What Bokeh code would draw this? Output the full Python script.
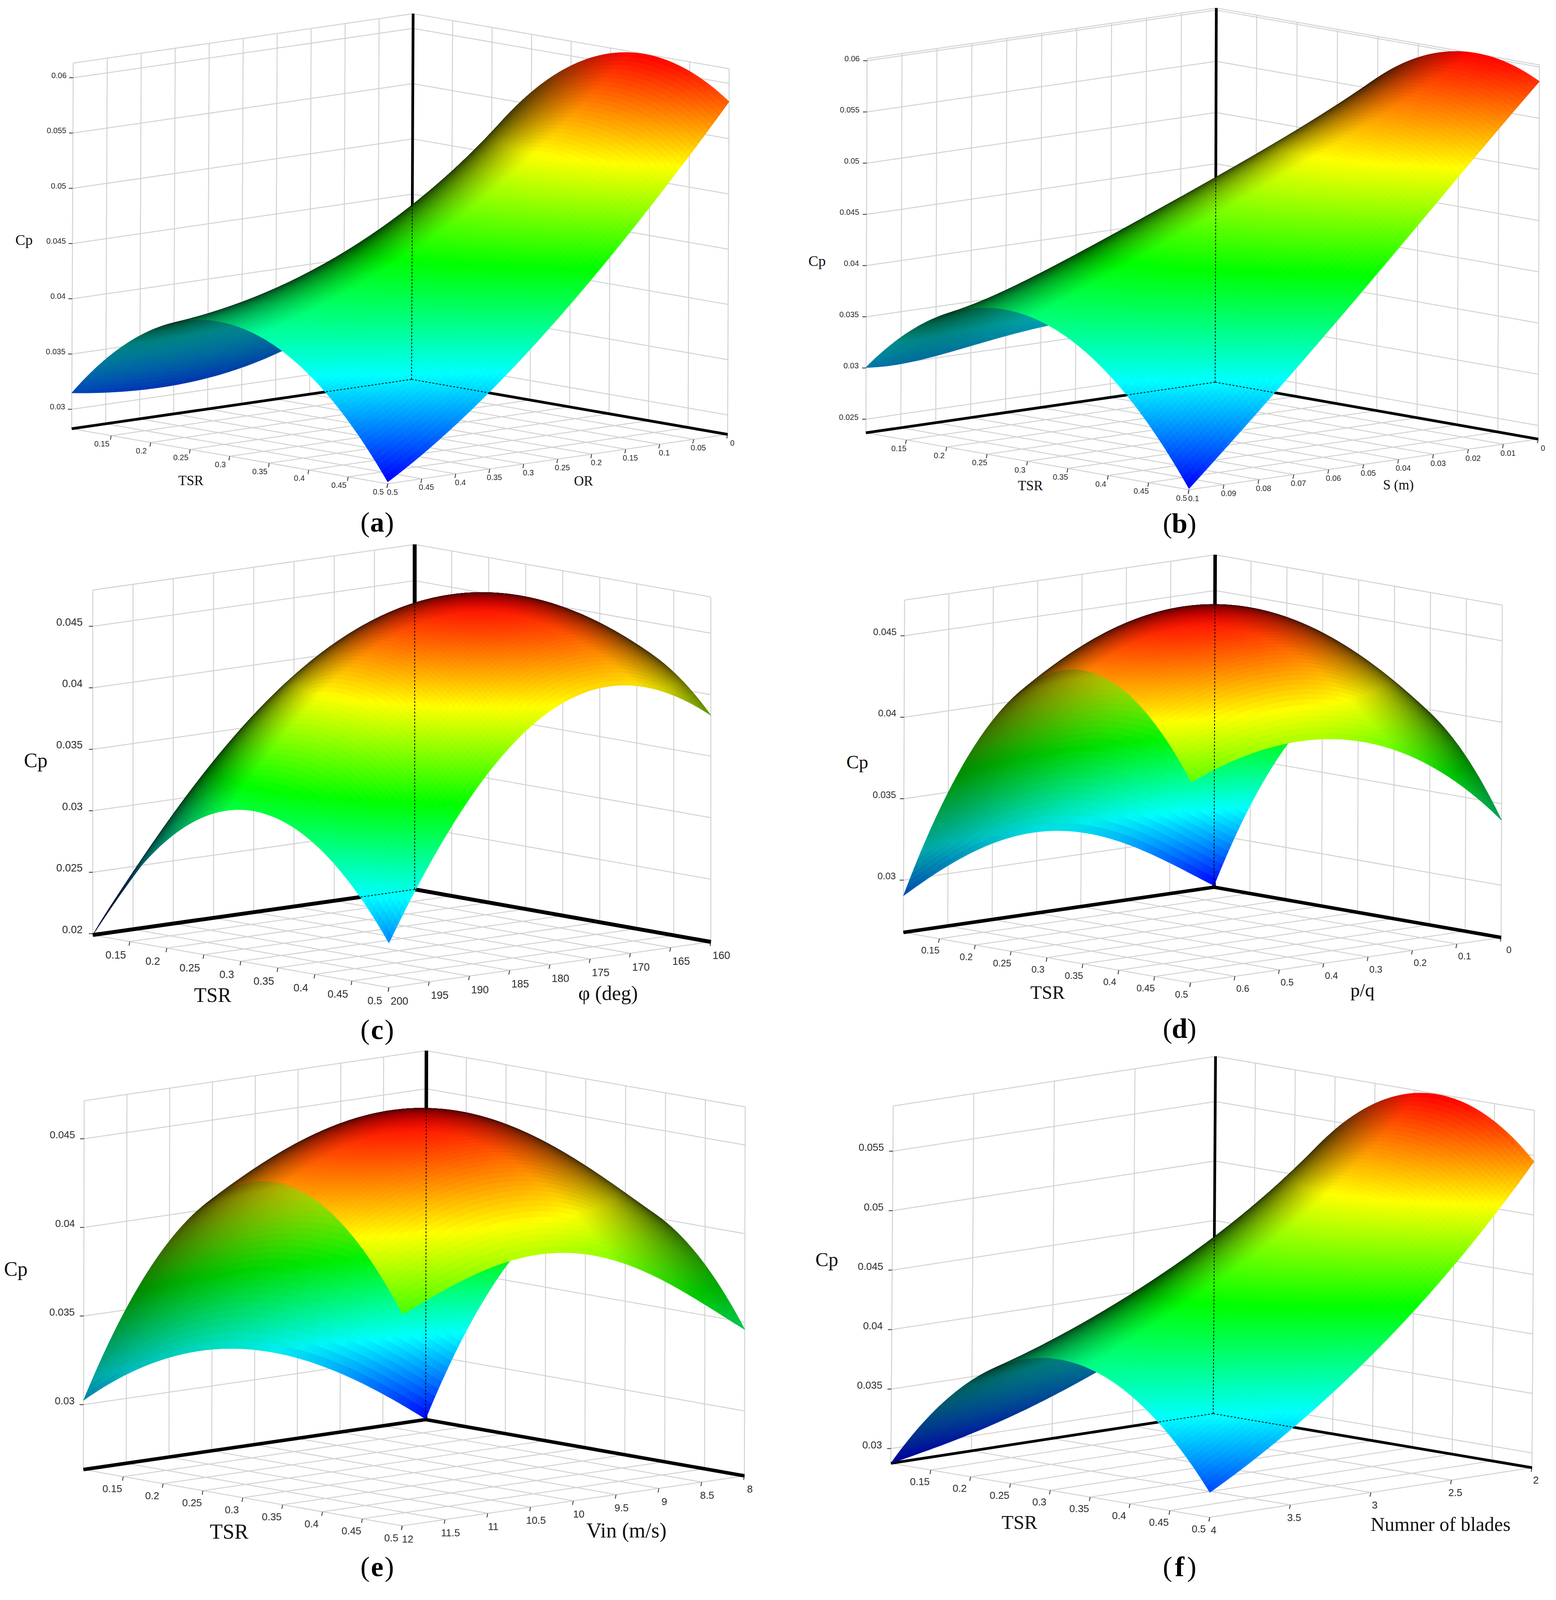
import numpy as np

from bokeh.core.properties import value
from bokeh.embed import file_html
from bokeh.layouts import column, row
from bokeh.models import Range1d
from bokeh.plotting import figure
from bokeh.resources import INLINE

# Cp: rows are TSR 0.1 .. 0.5, columns run along the
# second factor from its back value (first tick) to its front value (last tick)
tsr_labels = ["0.15", "0.2", "0.25", "0.3", "0.35", "0.4", "0.45", "0.5"]

cp_a = [[0.03936, 0.03420, 0.03155, 0.03082, 0.03148],
        [0.05180, 0.04565, 0.04161, 0.03929, 0.03840],
        [0.05911, 0.05197, 0.04654, 0.04265, 0.04020],
        [0.06130, 0.05316, 0.04634, 0.04088, 0.03688],
        [0.05835, 0.04922, 0.04101, 0.03396, 0.02841]]
cp_b = [[0.03189, 0.03171, 0.03152, 0.03043, 0.03006],
        [0.04679, 0.04444, 0.04204, 0.03909, 0.03671],
        [0.05620, 0.05169, 0.04712, 0.04223, 0.03788],
        [0.06013, 0.05346, 0.04672, 0.03989, 0.03357],
        [0.05859, 0.04975, 0.04080, 0.03211, 0.02378]]
cp_c = [[0.02515, 0.03056, 0.03168, 0.02775, 0.01990],
        [0.03631, 0.04122, 0.04178, 0.03728, 0.02868],
        [0.04226, 0.04665, 0.04662, 0.04155, 0.03223],
        [0.04293, 0.04680, 0.04618, 0.04056, 0.03050],
        [0.03833, 0.04169, 0.04052, 0.03432, 0.02352]]
cp_d = [[0.02689, 0.02991, 0.03165, 0.03128, 0.02905],
        [0.03624, 0.03997, 0.04200, 0.04156, 0.03913],
        [0.04054, 0.04478, 0.04689, 0.04661, 0.04418],
        [0.03979, 0.04413, 0.04632, 0.04619, 0.04417],
        [0.03399, 0.03823, 0.04032, 0.04052, 0.03911]]
cp_e = [[0.02638, 0.02967, 0.03169, 0.03196, 0.03025],
        [0.03576, 0.03954, 0.04180, 0.04175, 0.03959],
        [0.04027, 0.04432, 0.04671, 0.04645, 0.04404],
        [0.03988, 0.04380, 0.04611, 0.04585, 0.04360],
        [0.03460, 0.03818, 0.04032, 0.04015, 0.03828]]
cp_f = [[0.03780, 0.03507, 0.03233, 0.03023, 0.02876],
        [0.05020, 0.04552, 0.04187, 0.03900, 0.03684],
        [0.05710, 0.05096, 0.04639, 0.04273, 0.03987],
        [0.05862, 0.05135, 0.04588, 0.04142, 0.03789],
        [0.05450, 0.04672, 0.04033, 0.03510, 0.03086]]

or_labels = ["0", "0.05", "0.1", "0.15", "0.2", "0.25", "0.3", "0.35", "0.4", "0.45", "0.5"]
s_labels = ["0", "0.01", "0.02", "0.03", "0.04", "0.05", "0.06", "0.07", "0.08", "0.09", "0.1"]
phi_labels = ["160", "165", "170", "175", "180", "185", "190", "195", "200"]
pq_labels = ["0", "0.1", "0.2", "0.3", "0.4", "0.5", "0.6", ""]
vin_labels = ["8", "8.5", "9", "9.5", "10", "10.5", "11", "11.5", "12"]
blade_labels = ["2", "2.5", "3", "3.5", "4"]

z_a = ["0.03", "0.035", "0.04", "0.045", "0.05", "0.055", "0.06"]
z_b = ["0.025", "0.03", "0.035", "0.04", "0.045", "0.05", "0.055", "0.06"]
z_c = ["0.02", "0.025", "0.03", "0.035", "0.04", "0.045"]
z_d = ["0.03", "0.035", "0.04", "0.045"]
z_e = ["0.03", "0.035", "0.04", "0.045"]
z_f = ["0.03", "0.035", "0.04", "0.045", "0.05", "0.055"]

# where each box sits on the page, and how it is lettered
panels = [
    dict(tag="a", cp=cp_a, other=or_labels, other_values=[float(v) for v in or_labels], z=z_a, zlim=(0.02824, 0.06133),
         B=(1061, 1214), L=(191, 1371), R=(1870, 1389), T=(1065, 51), frame=(8, 2000, 8, 1730),
         tick_font=20, axis_w=7, tsr_off=(-24, 26), other_off=(12, 27), z_off=(-17, -8),
         name="OR", cp_at=(69, 770), cp_font=38, tsr_at=(496, 1536), name_at=(1501, 1538), name_font=35, cap_at=(973, 1669)),
    dict(tag="b", cp=cp_b, other=s_labels, other_values=[float(v) for v in s_labels], z=z_b, zlim=(0.02367, 0.0602),
         B=(3118, 1223), L=(2224, 1384), R=(3945, 1404), T=(3121, 33), frame=(2000, 3975, 8, 1730),
         tick_font=20, axis_w=7, tsr_off=(-19, 27), other_off=(12, 28), z_off=(-19, -7),
         name="S (m)", cp_at=(2099, 837), cp_font=38, tsr_at=(2645, 1552), name_at=(3587, 1550), name_font=35, cap_at=(3027, 1672)),
    dict(tag="c", cp=cp_c, other=phi_labels, other_values=[float(v) for v in phi_labels], z=z_c, zlim=(0.0199, 0.04795),
         B=(1069, 2836), L=(245, 2981), R=(1827, 3003), T=(1069, 1739), frame=(8, 2000, 1730, 3340),
         tick_font=27, axis_w=10, tsr_off=(-36, 42), other_off=(27, 43), z_off=(-26, -14),
         name="\u03c6 (deg)", cp_at=(99, 2426), cp_font=52, tsr_at=(552, 3172), name_at=(1564, 3166), name_font=52, cap_at=(973, 3282)),
    dict(tag="d", cp=cp_d, other=pq_labels, other_values=[0, 0.1, 0.2, 0.3, 0.4, 0.5, 0.6, 0.7], z=z_d, zlim=(0.02679, 0.04719),
         B=(3115, 2829), L=(2320, 2973), R=(3850, 2989), T=(3118, 1772), frame=(2000, 3975, 1730, 3340),
         tick_font=24, axis_w=9, tsr_off=(-23, 37), other_off=(20, 39), z_off=(-20, -13),
         name="p/q", cp_at=(2202, 2431), cp_font=48, tsr_at=(2689, 3164), name_at=(3495, 3156), name_font=48, cap_at=(3027, 3278)),
    dict(tag="e", cp=cp_e, other=vin_labels, other_values=[float(v) for v in vin_labels], z=z_e, zlim=(0.02634, 0.04715),
         B=(1097, 4523), L=(221, 4682), R=(1913, 4702), T=(1099, 3349), frame=(8, 2000, 3340, 5048),
         tick_font=26, axis_w=9, tsr_off=(-28, 39), other_off=(14, 42), z_off=(-23, -13),
         name="Vin (m/s)", cp_at=(48, 4044), cp_font=52, tsr_at=(594, 4880), name_at=(1611, 4876), name_font=54, cap_at=(973, 4992)),
    dict(tag="f", cp=cp_f, other=blade_labels, other_values=[float(v) for v in blade_labels], z=z_f, zlim=(0.02876, 0.0588),
         B=(3113, 4504), L=(2288, 4662), R=(3929, 4676), T=(3119, 3367), frame=(2000, 3975, 3340, 5048),
         tick_font=26, axis_w=7, tsr_off=(-28, 37), other_off=(10, 40), z_off=(-23, -12),
         name="Numner of blades", cp_at=(2124, 4013), cp_font=50, tsr_at=(2617, 4850), name_at=(3695, 4856), name_font=50, cap_at=(3027, 4991)),
]

N_MESH = 100
HEIGHT_FACTOR = 0.805  # the photographed page stops near 4100 px, so the rows are squeezed to fit
GRID = "#d2d2d2"
INK = "#2e2e2e"
SERIF = value("Liberation Serif")
SANS = value("Liberation Sans")


def lagrange(t):
    # basis of the polynomial through the five read values
    nodes = np.linspace(0, 1, 5)
    out = []
    for k in range(5):
        w = np.ones_like(t)
        for m in range(5):
            if m != k:
                w = w * (t - nodes[m]) / (nodes[k] - nodes[m])
        out.append(w)
    return np.array(out)


def jet(t):
    stops = [0, 0.25, 0.5, 0.75, 1]
    return (np.interp(t, stops, [0, 0, 0, 1, 1]),
            np.interp(t, stops, [0, 1, 1, 1, 0]),
            np.interp(t, stops, [1, 1, 0, 0, 0]))


def draw_panel(cfg):
    x0, x1, y0, y1 = cfg["frame"]
    p = figure(width=x1 - x0, height=int((y1 - y0) * HEIGHT_FACTOR), x_range=Range1d(x0, x1), y_range=Range1d(y1, y0),
               output_backend="svg", toolbar_location=None, min_border=0)
    p.axis.visible = False
    p.grid.visible = False
    p.outline_line_color = None

    B, L, R, T = [np.array(cfg[k], dtype=float) for k in "BLRT"]
    va, vb, vc = R - B, L - B, T - B
    zmin, zmax = cfg["zlim"]

    def project(s, o, h):
        s, o, h = np.asarray(s, float), np.asarray(o, float), np.asarray(h, float)
        return (B[0] + s * va[0] + o * vb[0] + h * vc[0],
                B[1] + s * va[1] + o * vb[1] + h * vc[1])

    def seg(s0, o0, h0, s1, o1, h1):
        xa, ya = project(s0, o0, h0)
        xb, yb = project(s1, o1, h1)
        return [float(xa), float(xb)], [float(ya), float(yb)]

    others = cfg["other_values"]
    o_of = [(v - others[0]) / (others[-1] - others[0]) for v in others]
    s_of = [i / 8 for i in range(9)]
    z_vals = [float(v) for v in cfg["z"]]
    h_of = [(v - zmin) / (zmax - zmin) for v in z_vals] + [1.0]

    # floor and the two walls
    xs, ys = [], []
    for o in o_of:
        a = seg(0, o, 0, 1, o, 0); xs.append(a[0]); ys.append(a[1])
        a = seg(0, o, 0, 0, o, 1); xs.append(a[0]); ys.append(a[1])
    for s in s_of:
        a = seg(s, 0, 0, s, 1, 0); xs.append(a[0]); ys.append(a[1])
        a = seg(s, 0, 0, s, 0, 1); xs.append(a[0]); ys.append(a[1])
    for h in h_of:
        a = seg(0, 1, h, 0, 0, h); xs.append(a[0]); ys.append(a[1])
        a = seg(0, 0, h, 1, 0, h); xs.append(a[0]); ys.append(a[1])
    p.multi_line(xs, ys, line_color=GRID, line_width=2.5)

    # heavy axes behind the surface
    w = cfg["axis_w"]
    for s1, o1, h1 in [(1, 0, 0), (0, 1, 0), (0, 0, 1)]:
        a = seg(0, 0, 0, s1, o1, h1)
        p.line(a[0], a[1], line_color="black", line_width=w)

    # surface, painted from the back corner to the front one
    st = np.linspace(0, 1, N_MESH + 1)
    h = np.array(cfg["cp"], dtype=float)
    surf = lagrange(st).T @ h @ lagrange(st)
    norm = (surf - surf.min()) / (surf.max() - surf.min())
    hh = (surf - zmin) / (zmax - zmin)
    hs, ho = np.gradient(hh, st, st)
    view = np.cross([va[0], vb[0], vc[0]], [va[1], vb[1], vc[1]])
    view = view / np.linalg.norm(view) * np.sign(view[2])
    cosv = (-hs * view[0] - ho * view[1] + view[2]) / np.sqrt(hs ** 2 + ho ** 2 + 1)
    bright = 0.18 + 0.82 * np.clip(np.abs(cosv) * np.where(cosv > 0, 1.8, 1.4), 0, 1)
    px, py = project(*np.meshgrid(st, st, indexing="ij"), hh)
    px, py = np.round(px, 1), np.round(py, 1)

    order = sorted(((i, j) for i in range(N_MESH) for j in range(N_MESH)), key=lambda c: c[0] + c[1])
    qx, qy, colors = [], [], []
    for i, j in order:
        qx.append([px[i, j], px[i + 1, j], px[i + 1, j + 1], px[i, j + 1]])
        qy.append([py[i, j], py[i + 1, j], py[i + 1, j + 1], py[i, j + 1]])
        t = norm[i:i + 2, j:j + 2].mean()
        b = bright[i:i + 2, j:j + 2].mean()
        r, g, bl = jet(t)
        colors.append("#%02x%02x%02x" % (int(r * b * 255), int(g * b * 255), int(bl * b * 255)))
    p.patches(qx, qy, fill_color=colors, line_color=colors, line_width=1.2)

    # dashed axes over it
    for s1, o1, h1 in [(1, 0, 0), (0, 1, 0), (0, 0, 1)]:
        a = seg(0, 0, 0, s1, o1, h1)
        p.line(a[0], a[1], line_color="black", line_width=2, line_dash="5 4")

    # tick marks and numbers
    tick_x, tick_y = [], []
    tx, ty, tt = [], [], []
    for lab, s in zip(tsr_labels, s_of[1:]):
        fx, fy = project(s, 1, 0)
        tick_x.append([float(fx), float(fx) - 2]); tick_y.append([float(fy), float(fy) + 13])
        tx.append(float(fx) + cfg["tsr_off"][0]); ty.append(float(fy) + cfg["tsr_off"][1]); tt.append(lab)
    for lab, o in zip(cfg["other"], o_of):
        fx, fy = project(1, o, 0)
        tick_x.append([float(fx), float(fx) - 2]); tick_y.append([float(fy), float(fy) + 13])
        tx.append(float(fx) + cfg["other_off"][0]); ty.append(float(fy) + cfg["other_off"][1]); tt.append(lab)
    p.text(tx, ty, text=tt, text_font=SANS, text_font_size="%dpx" % cfg["tick_font"], text_color=INK,
           text_align="center", text_baseline="middle")

    zx, zy, zt = [], [], []
    for lab, hv in zip(cfg["z"], h_of):
        fx, fy = project(0, 1, hv)
        tick_x.append([float(fx) - 10, float(fx)]); tick_y.append([float(fy), float(fy)])
        zx.append(float(fx) + cfg["z_off"][0]); zy.append(float(fy) + cfg["z_off"][1]); zt.append(lab)
    p.multi_line(tick_x, tick_y, line_color=INK, line_width=2)
    p.text(zx, zy, text=zt, text_font=SANS, text_font_size="%dpx" % cfg["tick_font"], text_color=INK,
           text_align="right", text_baseline="middle")

    # axis names
    p.text([cfg["cp_at"][0]], [cfg["cp_at"][1]], text=["Cp"], text_font=SERIF, text_color="#111111",
           text_font_size="%dpx" % cfg["cp_font"], text_align="center", text_baseline="middle")
    p.text([cfg["tsr_at"][0], cfg["name_at"][0]], [cfg["tsr_at"][1], cfg["name_at"][1]], text=["TSR", cfg["name"]],
           text_font=SERIF, text_color="#111111", text_font_size="%dpx" % cfg["name_font"],
           text_align="center", text_baseline="middle")

    # caption, letter in bold
    cx, cy = cfg["cap_at"]
    p.text([cx], [cy], text=[cfg["tag"]], text_font=SERIF, text_font_style="bold", text_color="black",
           text_font_size="72px", text_align="center", text_baseline="middle")
    p.text([cx - 19], [cy], text=["("], text_font=SERIF, text_color="black",
           text_font_size="72px", text_align="right", text_baseline="middle")
    p.text([cx + 19], [cy], text=[")"], text_font=SERIF, text_color="black",
           text_font_size="72px", text_align="left", text_baseline="middle")
    return p


figs = [draw_panel(c) for c in panels]
page = column(row(figs[0], figs[1]), row(figs[2], figs[3]), row(figs[4], figs[5]))
open("out.html", "w").write(file_html(page, INLINE))
